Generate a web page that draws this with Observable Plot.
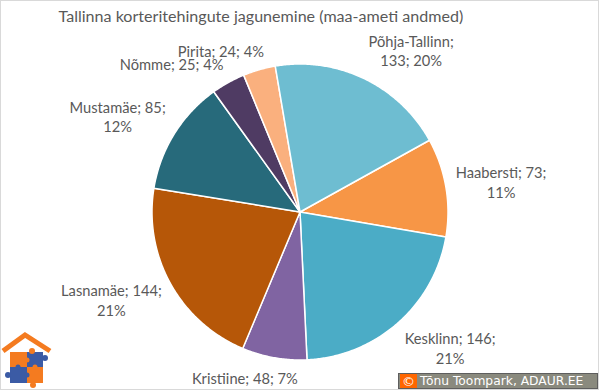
<!DOCTYPE html>
<html><head><meta charset="utf-8">
<script src="https://cdn.jsdelivr.net/npm/d3@7"></script>
<script src="https://cdn.jsdelivr.net/npm/@observablehq/plot@0.6"></script>
<style>
body{margin:0;background:#fff;}
#wrap{position:relative;width:600px;height:392px;overflow:hidden;}
#border{position:absolute;left:0;top:0;width:597px;height:388px;border:1px solid #d9d9d9;}
#chart{position:absolute;left:0;top:0;}
#logo{position:absolute;left:0;top:325px;}
#copy{position:absolute;left:398px;top:373px;width:200px;height:16px;box-sizing:border-box;background:#8a8a7e;border:1px solid #5e5e5e;display:flex;align-items:center;font-family:"DejaVu Sans",sans-serif;font-size:12.3px;color:#fff;white-space:nowrap;}
#copy .c{width:17px;height:14px;background:#ff6600;color:#fff;display:flex;align-items:center;justify-content:center;margin:0 3px 0 1px;font-size:13px;}
</style></head>
<body>
<div id="wrap">
  <div id="border"></div>
  <div id="chart"></div>
  <svg id="logo" width="60" height="67" viewBox="0 0 60 67">
    <polyline points="3,26 25,10 50,26" fill="none" stroke="#f47b20" stroke-width="5" stroke-linejoin="miter"/>
    <rect x="10" y="27" width="17" height="15" fill="#f47b20"/>
    <rect x="27" y="27" width="16" height="15" fill="#3b5ba5"/>
    <rect x="10" y="42" width="17" height="16" fill="#3b5ba5"/>
    <rect x="27" y="42" width="16" height="16" fill="#f47b20"/>
    <circle cx="32" cy="26" r="3" fill="#f47b20"/>
    <circle cx="45" cy="33" r="3" fill="#3b5ba5"/>
    <circle cx="8" cy="50" r="3" fill="#3b5ba5"/>
    <circle cx="33" cy="60" r="3" fill="#f47b20"/>
    <circle cx="18" cy="42" r="2.5" fill="#3b5ba5"/>
    <circle cx="27" cy="35" r="2.5" fill="#f47b20"/>
    <circle cx="27" cy="50" r="2.5" fill="#3b5ba5"/>
    <circle cx="35" cy="42" r="2.5" fill="#f47b20"/>
  </svg>
  <div id="copy"><span class="c">©</span><span>Tõnu Toompark, ADAUR.EE</span></div>
</div>
<script>
const title = "Tallinna korteritehingute jagunemine (maa-ameti andmed)";
const names = ["Haabersti", "Kesklinn", "Kristiine", "Lasnamäe", "Mustamäe", "Nõmme", "Pirita", "Põhja-Tallinn"];
const counts = [73, 146, 48, 144, 85, 25, 24, 133];
const percents = [11, 21, 7, 21, 12, 4, 4, 20];
const colors = ["#f79646", "#4bacc6", "#8064a2", "#b65708", "#276a7b", "#4f3b63", "#fab07e", "#6ebdd1"];
const startDeg = 61;

const W = 600, H = 392;
const cx = 299.5, cy = 211.5, R = 148;
const textColor = "#595959";
const fontFam = "Lato";

const ctx = document.createElement("canvas").getContext("2d");
function measure(s, fs) { ctx.font = `${fs}px ${fontFam}`; return ctx.measureText(s).width; }
// fit fonts to the reference's text widths
const labelFs = 14 * 106 / measure("Kristiine; 48; 7%", 14);
const titleFs = 18 * 405 / measure(title, 18);
const lineH = 19.5;
const wrapLimit = 117;

const data = names.map((n, i) => ({name: n, count: counts[i], pct: percents[i]}));
const arcs = d3.pie().sort(null).value(d => d.count)
  .startAngle(startDeg * Math.PI / 180)
  .endAngle(startDeg * Math.PI / 180 + 2 * Math.PI)(data);

// slice polygons in unit coords
const pts = [];
for (const a of arcs) {
  pts.push({name: a.data.name, x: 0, y: 0});
  const n = Math.max(2, Math.ceil((a.endAngle - a.startAngle) / (Math.PI / 360)));
  for (let k = 0; k <= n; k++) {
    const t = a.startAngle + (a.endAngle - a.startAngle) * k / n;
    pts.push({name: a.data.name, x: Math.sin(t), y: Math.cos(t)});
  }
}

function wrap(s) {
  const words = s.split(" ");
  const lines = [];
  let cur = "";
  for (const w of words) {
    const trial = cur ? cur + " " + w : w;
    if (cur && measure(trial, labelFs) > wrapLimit) { lines.push(cur); cur = w; }
    else cur = trial;
  }
  lines.push(cur);
  return lines;
}
const clamp = v => Math.max(-1, Math.min(1, v));
const labels = arcs.map(a => {
  const s = `${a.data.name}; ${a.data.count}; ${a.data.pct}%`;
  const lines = wrap(s);
  const w = d3.max(lines, l => measure(l, labelFs));
  const h = lines.length * lineH;
  const mid = (a.startAngle + a.endAngle) / 2;
  const dx = Math.sin(mid), dy = -Math.cos(mid);
  const px = dx * (R + 10) + w / 2 * clamp(3 * dx);
  const py = dy * (R + 10) + h / 2 * clamp(1.2 * dy);
  return {text: lines.join("\n"), x: px / R, y: -py / R};
});

const chart = Plot.plot({
  width: W, height: H,
  margin: 0,
  style: {background: "transparent", fontFamily: fontFam},
  x: {domain: [-1, 1], range: [cx - R, cx + R], axis: null},
  y: {domain: [-1, 1], range: [cy + R, cy - R], axis: null},
  color: {domain: names, range: colors},
  marks: [
    Plot.line(pts, {x: "x", y: "y", z: "name", fill: "name", stroke: "white", strokeWidth: 1.5, curve: "linear-closed"}),
    Plot.text(labels, {x: "x", y: "y", text: "text", fontSize: labelFs, fill: textColor, textAnchor: "middle", lineHeight: lineH / labelFs}),
    Plot.text([title], {frameAnchor: "top-left", textAnchor: "start", dx: 58, dy: 10, fontSize: titleFs, fill: textColor})
  ]
});
document.getElementById("chart").appendChild(chart);
</script>
</body></html>
